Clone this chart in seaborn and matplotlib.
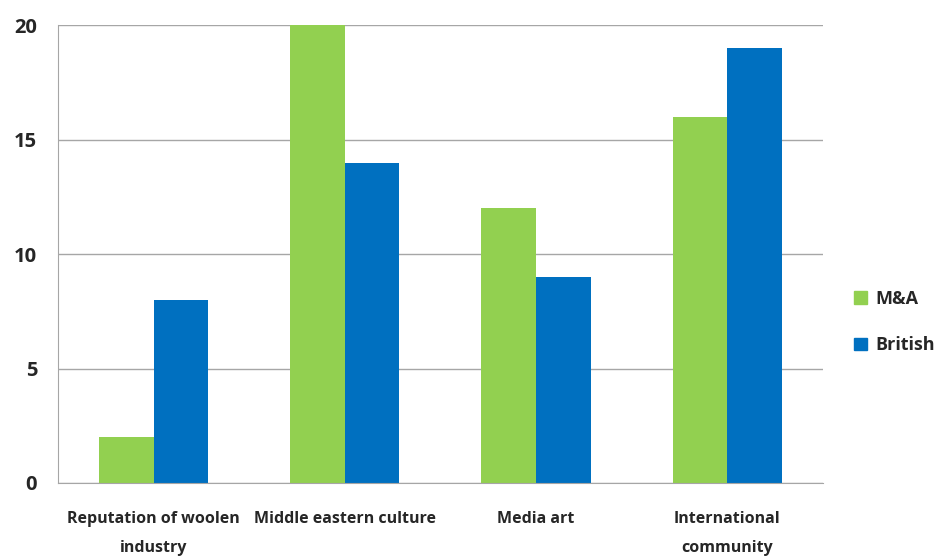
import pandas as pd
import numpy as np
import matplotlib.pyplot as plt
import seaborn as sns
from matplotlib.patches import Patch

# datos
categorias = ["Reputation of woolen\nindustry", "Middle eastern culture", "Media art", "International\ncommunity"]
series = ["M&A", "British"]
valores_ma = [2, 20, 12, 16]
valores_british = [8, 14, 9, 19]
colores = ["#92D050", "#0070C0"]

df = pd.DataFrame({
    "categoria": categorias * 2,
    "serie": [series[0]] * 4 + [series[1]] * 4,
    "valor": valores_ma + valores_british,
})

sns.set_style("white")
plt.rcParams['font.family'] = ['Open Sans', 'DejaVu Sans']

fig = plt.figure(figsize=(9.34, 5.6), dpi=100)
ax = fig.add_axes([0.062, 0.1375, 0.819, 0.8175])

sns.barplot(data=df, x="categoria", y="valor", hue="serie", palette=colores,
            width=0.57, gap=0, saturation=1, errorbar=None, ax=ax, legend=False,
            linewidth=0)

ax.set_ylim(0, 20)
ax.set_xlim(-0.5, 3.5)
ax.yaxis.grid(True, color="#a6a6a6", linewidth=1)
ax.set_axisbelow(True)
for s in ["top", "right"]:
    ax.spines[s].set_visible(False)
ax.spines["left"].set_color("#a6a6a6")
ax.spines["bottom"].set_color("#a6a6a6")
ax.set_xlabel("")
ax.set_ylabel("")

ax.set_yticks([0, 5, 10, 15, 20])
ax.set_yticklabels(["0", "5", "10", "15", "20"], fontsize=14.5, fontweight="bold")
ax.tick_params(axis="y", length=0, pad=15)

ax.set_xticks(range(len(categorias)))
ax.set_xticklabels(categorias, fontsize=11.5, fontweight="bold", linespacing=2.1)
ax.tick_params(axis="x", which="major", length=0, pad=20)
ax.set_xticks(np.arange(-0.5, 4, 1), minor=True)
ax.tick_params(axis="x", which="minor", length=6, color="#a6a6a6", direction="out")

handles = [Patch(color=c, label=s) for c, s in zip(colores, series)]
leg = fig.legend(handles=handles, loc="center left", bbox_to_anchor=(0.897, 0.425),
                 frameon=False, handlelength=0.7, handleheight=0.7,
                 handletextpad=0.5, labelspacing=1.6,
                 prop={"size": 13, "weight": "bold"})

plt.savefig("out.png", dpi=100)
plt.close()
